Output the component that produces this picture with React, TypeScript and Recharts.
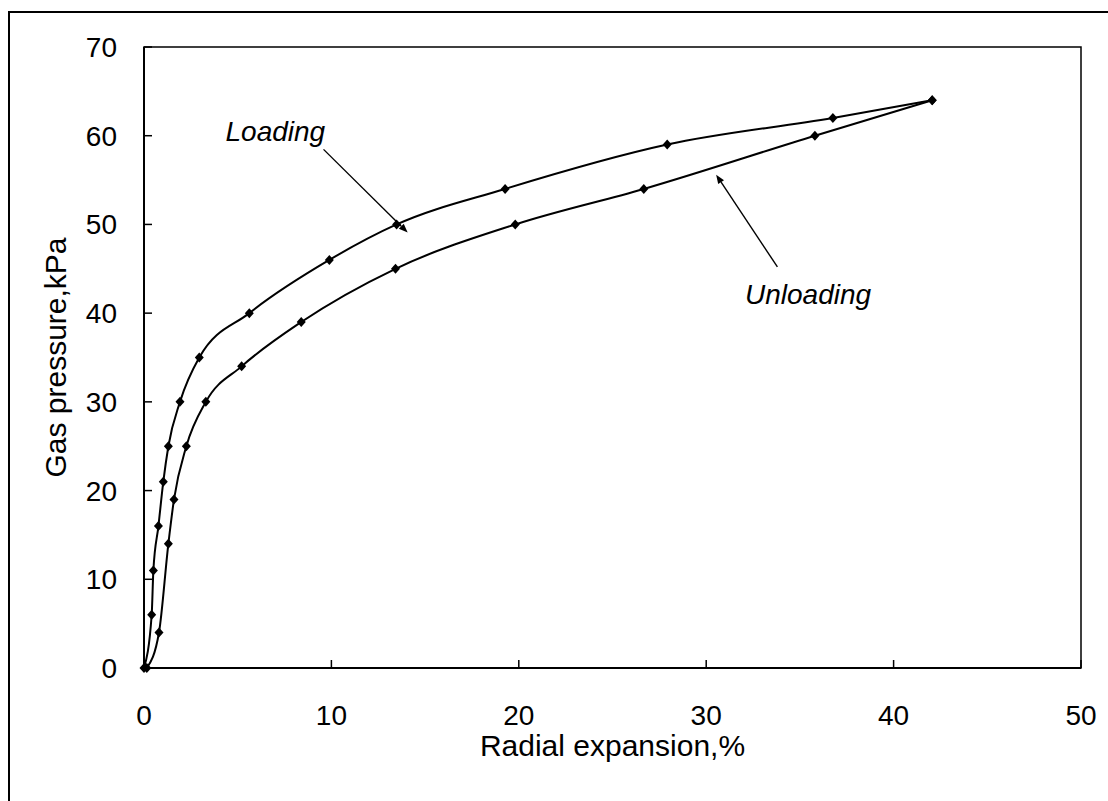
import React from "react";
import { LineChart, Line, XAxis, YAxis, ReferenceArea, ReferenceLine, ReferenceDot, Label } from "recharts";

// Radial expansion (%) and gas pressure (kPa) read at each marked point
const loadingExpansion = [0, 0.41, 0.5, 0.77, 1.03, 1.3, 1.92, 2.95, 5.62, 9.89, 13.48, 19.27, 27.92, 36.76, 42.06];
const loadingPressure = [0, 6, 11, 16, 21, 25, 30, 35, 40, 46, 50, 54, 59, 62, 64];
const unloadingExpansion = [0.15, 0.8, 1.3, 1.6, 2.26, 3.3, 5.21, 8.39, 13.42, 19.81, 26.67, 35.8, 42.06];
const unloadingPressure = [0, 4, 14, 19, 25, 30, 34, 39, 45, 50, 54, 60, 64];

const xTicks = [0, 10, 20, 30, 40, 50];
const yTicks = [0, 10, 20, 30, 40, 50, 60, 70];

// Curve labels with their pointer arrows, in axis units
const notes = [
  { text: "Loading", at: { x: 4.35, y: 59.4 }, from: { x: 9.58, y: 58.46 }, to: { x: 14.07, y: 49.08 } },
  { text: "Unloading", at: { x: 32.07, y: 41.0 }, from: { x: 33.8, y: 45.21 }, to: { x: 30.53, y: 55.61 } },
];

const FONT = '"Liberation Sans", Arial, sans-serif';

const toPoints = (xs: number[], ys: number[]) => xs.map((x, i) => ({ x, y: ys[i] }));
const loadingData = toPoints(loadingExpansion, loadingPressure);
const unloadingData = toPoints(unloadingExpansion, unloadingPressure);

const Diamond = (props: any) => {
  const { cx, cy } = props;
  if (cx == null || cy == null) return null;
  return (
    <polygon
      points={`${cx},${cy - 5} ${cx + 4.5},${cy} ${cx},${cy + 5} ${cx - 4.5},${cy}`}
      fill="#000"
    />
  );
};

// line with a small filled head at the second point
const Arrow = (props: any) => {
  const { x1, y1, x2, y2 } = props;
  const a = Math.atan2(y2 - y1, x2 - x1);
  const len = 9;
  const half = 3.5;
  const bx = x2 - len * Math.cos(a);
  const by = y2 - len * Math.sin(a);
  const px = -Math.sin(a) * half;
  const py = Math.cos(a) * half;
  return (
    <g>
      <line x1={x1} y1={y1} x2={bx} y2={by} stroke="#000" strokeWidth={1.4} />
      <polygon points={`${x2},${y2} ${bx + px},${by + py} ${bx - px},${by - py}`} fill="#000" />
    </g>
  );
};

export default function App() {
  return (
    <div
      style={{
        position: "absolute",
        left: 0,
        top: 0,
        width: 1108,
        height: 801,
        overflow: "hidden",
        background: "#fff",
        fontFamily: FONT,
      }}
    >
      <div
        style={{
          position: "absolute",
          left: 8,
          top: 11,
          width: 1200,
          height: 900,
          border: "2px solid #000",
        }}
      />
      <div style={{ position: "absolute", left: 0, top: 0 }}>
        <LineChart width={1108} height={801} margin={{ top: 47, right: 27, bottom: 0, left: 0 }}>
          <ReferenceArea x1={0} x2={50} y1={0} y2={70} fill="none" stroke="#000" strokeWidth={1.5} />
          <XAxis
            dataKey="x"
            type="number"
            domain={[0, 50]}
            ticks={xTicks}
            height={133}
            tickSize={-8}
            tickMargin={45}
            axisLine={{ stroke: "#000", strokeWidth: 2 }}
            tickLine={{ stroke: "#000", strokeWidth: 1.5 }}
            tick={{ fill: "#000", fontSize: 28, fontFamily: FONT }}
          >
            <Label
              content={({ viewBox }: any) => (
                <text
                  x={viewBox.x + viewBox.width / 2}
                  y={viewBox.y + 88}
                  textAnchor="middle"
                  fontSize={30}
                  fontFamily={FONT}
                  fill="#000"
                >
                  Radial expansion,%
                </text>
              )}
            />
          </XAxis>
          <YAxis
            type="number"
            domain={[0, 70]}
            ticks={yTicks}
            width={144}
            tickSize={-8}
            tickMargin={35}
            axisLine={{ stroke: "#000", strokeWidth: 2 }}
            tickLine={{ stroke: "#000", strokeWidth: 1.5 }}
            tick={{ fill: "#000", fontSize: 28, fontFamily: FONT }}
          >
            <Label
              content={({ viewBox }: any) => {
                const cx = viewBox.x + 66;
                const cy = viewBox.y + viewBox.height / 2;
                return (
                  <text
                    x={cx}
                    y={cy}
                    transform={`rotate(-90 ${cx} ${cy})`}
                    textAnchor="middle"
                    fontSize={30}
                    fontFamily={FONT}
                    fill="#000"
                  >
                    Gas pressure,kPa
                  </text>
                );
              }}
            />
          </YAxis>
          <Line
            data={loadingData}
            dataKey="y"
            type="monotoneX"
            stroke="#000"
            strokeWidth={2}
            dot={<Diamond />}
            activeDot={false}
            isAnimationActive={false}
          />
          <Line
            data={unloadingData}
            dataKey="y"
            type="monotoneX"
            stroke="#000"
            strokeWidth={2}
            dot={<Diamond />}
            activeDot={false}
            isAnimationActive={false}
          />
          {notes.map((n) => (
            <ReferenceLine key={n.text + "-arrow"} segment={[n.from, n.to]} shape={<Arrow />} />
          ))}
          {notes.map((n) => (
            <ReferenceDot
              key={n.text}
              x={n.at.x}
              y={n.at.y}
              r={0}
              shape={(p: any) => (
                <text x={p.cx} y={p.cy} fontSize={28} fontStyle="italic" fontFamily={FONT} fill="#000">
                  {n.text}
                </text>
              )}
            />
          ))}
        </LineChart>
      </div>
    </div>
  );
}
